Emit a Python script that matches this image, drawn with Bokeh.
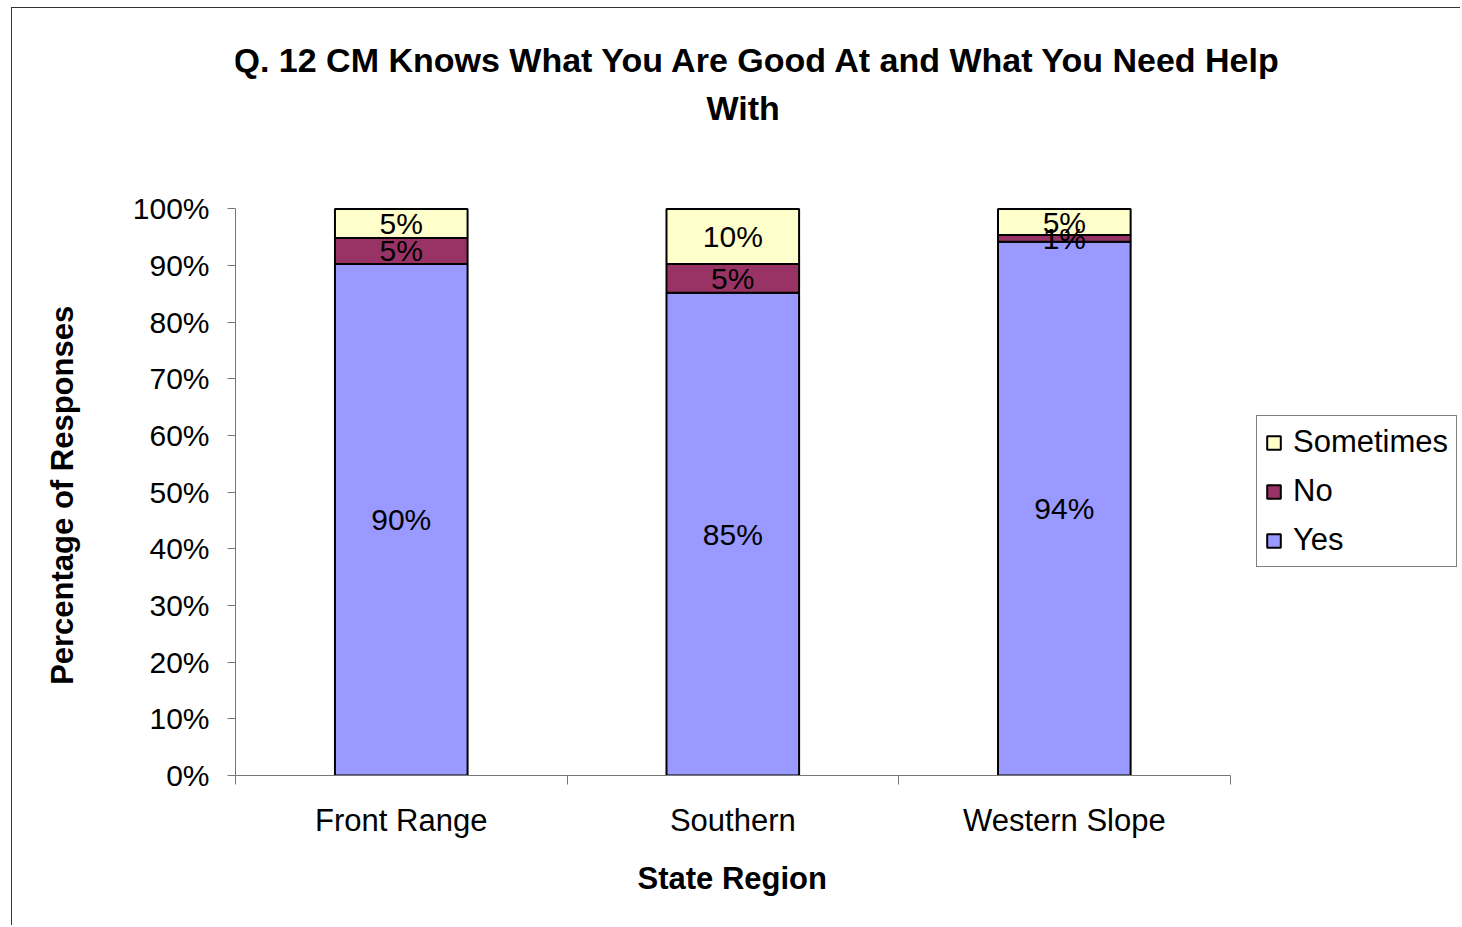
from bokeh.plotting import figure
from bokeh.models import (ColumnDataSource, FixedTicker, Legend, LegendItem, Label,
                          LabelSet, Range1d)
from bokeh.core.properties import value
from bokeh.embed import file_html
from bokeh.resources import INLINE

# ---- data ----
regions = ["Front Range", "Southern", "Western Slope"]
yes = [90.3, 85.2, 94.2]
no = [4.6, 5.1, 1.2]
sometimes = [5.1, 9.7, 4.6]
series_names = ["Yes", "No", "Sometimes"]
colors = ["#9999FF", "#993366", "#FFFFCC"]
title_lines = ["Q. 12 CM Knows What You Are Good At and What You Need Help", "With"]
x_title = "State Region"
y_title = "Percentage of Responses"
y_ticks = [0, 10, 20, 30, 40, 50, 60, 70, 80, 90, 100]

FONT = "Liberation Sans"
NBSP = "\u00a0"

xs = [i + 0.5 for i in range(len(regions))]
y1 = yes
y2 = [a + b for a, b in zip(yes, no)]
y3 = [a + b + c for a, b, c in zip(yes, no, sometimes)]

# frame extends to top/right edges so that title and legend sit inside it;
# axes are limited to the data extent with `bounds`
p = figure(width=1449, height=918, output_backend="svg", toolbar_location=None,
           x_range=Range1d(0, 3.698), y_range=Range1d(0, 135.39),
           min_border_left=223, min_border_right=0, min_border_top=0,
           min_border_bottom=151)
p.styles = {"border-left": "1.5px solid #333", "border-top": "1.5px solid #333",
            "margin-left": "11px", "margin-top": "7px"}
p.outline_line_color = None
p.xgrid.visible = False
p.ygrid.visible = False
p.background_fill_color = "white"

src = ColumnDataSource(dict(
    x=xs, yes_b=[0] * 3, yes_t=y1, no_t=y2, so_t=y3,
    yes_c=[v / 2 for v in y1],
    no_c=[a + b / 2 for a, b in zip(y1, no)],
    so_c=[a + b / 2 for a, b in zip(y2, sometimes)],
    yes_l=[f"{v:.0f}%" for v in yes],
    no_l=[f"{v:.0f}%" for v in no],
    so_l=[f"{v:.0f}%" for v in sometimes],
))

w = 0.4
r_yes = p.vbar(x="x", bottom="yes_b", top="yes_t", width=w, source=src,
               fill_color=colors[0], line_color="black", line_width=2)
r_no = p.vbar(x="x", bottom="yes_t", top="no_t", width=w, source=src,
              fill_color=colors[1], line_color="black", line_width=2)
r_so = p.vbar(x="x", bottom="no_t", top="so_t", width=w, source=src,
              fill_color=colors[2], line_color="black", line_width=2)

for ycol, tcol in [("yes_c", "yes_l"), ("no_c", "no_l"), ("so_c", "so_l")]:
    p.add_layout(LabelSet(x="x", y=ycol, text=tcol, source=src,
                          text_align="center", text_baseline="middle",
                          text_font=value(FONT), text_font_size="30px",
                          text_color="black"))

# x axis: category labels at centres, tick marks at boundaries
p.xaxis.bounds = (0, 3)
p.xaxis.ticker = FixedTicker(ticks=xs, minor_ticks=[0, 1, 2, 3])
p.xaxis.major_label_overrides = {x: r for x, r in zip(xs, regions)}
p.xaxis.major_tick_line_color = None
p.xaxis.minor_tick_in = 0
p.xaxis.minor_tick_out = 9
p.xaxis.minor_tick_line_color = "#777777"
p.xaxis.axis_line_color = "#777777"
p.xaxis.major_label_text_font = FONT
p.xaxis.major_label_text_font_size = "31px"
p.xaxis.major_label_text_color = "black"
p.xaxis.major_label_standoff = 18
# axis titles are centred on the (extended) frame; pad with no-break spaces so
# that the visible text is centred on the chart area itself
p.xaxis.axis_label = x_title + NBSP * 27
p.xaxis.axis_label_text_font = FONT
p.xaxis.axis_label_text_font_style = "bold"
p.xaxis.axis_label_text_font_size = "31px"
p.xaxis.axis_label_text_color = "black"
p.xaxis.axis_label_standoff = 20

# y axis
p.yaxis.bounds = (0, 100)
p.yaxis.ticker = FixedTicker(ticks=y_ticks, minor_ticks=[])
p.yaxis.major_label_overrides = {t: f"{t}%" for t in y_ticks}
p.yaxis.major_tick_in = 0
p.yaxis.major_tick_out = 8
p.yaxis.major_tick_line_color = "#777777"
p.yaxis.axis_line_color = "#777777"
p.yaxis.major_label_text_font = FONT
p.yaxis.major_label_text_font_size = "30px"
p.yaxis.major_label_text_color = "black"
p.yaxis.major_label_standoff = 18
p.yaxis.axis_label = y_title + NBSP * 24
p.yaxis.axis_label_text_font = FONT
p.yaxis.axis_label_text_font_style = "bold"
p.yaxis.axis_label_text_font_size = "31px"
p.yaxis.axis_label_text_color = "black"
p.yaxis.axis_label_standoff = 50

# title (two centred lines)
for tx, ty, line in zip([1.576, 1.531], [126.3, 117.83], title_lines):
    p.add_layout(Label(x=tx, y=ty, text=line, text_align="center",
                       text_baseline="middle", text_font=FONT, text_font_style="bold",
                       text_font_size="34px", text_color="black"))

legend = Legend(items=[LegendItem(label="Sometimes", renderers=[r_so]),
                       LegendItem(label="No", renderers=[r_no]),
                       LegendItem(label="Yes", renderers=[r_yes])],
                location=(1021, 208))
legend.label_text_font = FONT
legend.label_text_font_size = "31px"
legend.label_text_color = "black"
legend.glyph_width = 17
legend.glyph_height = 17
legend.spacing = 13
legend.padding = 8
legend.margin = 0
legend.label_standoff = 11
legend.border_line_color = "black"
legend.border_line_width = 1
legend.background_fill_color = "white"
legend.background_fill_alpha = 1
p.add_layout(legend, "center")

open("out.html", "w").write(file_html(p, INLINE))
